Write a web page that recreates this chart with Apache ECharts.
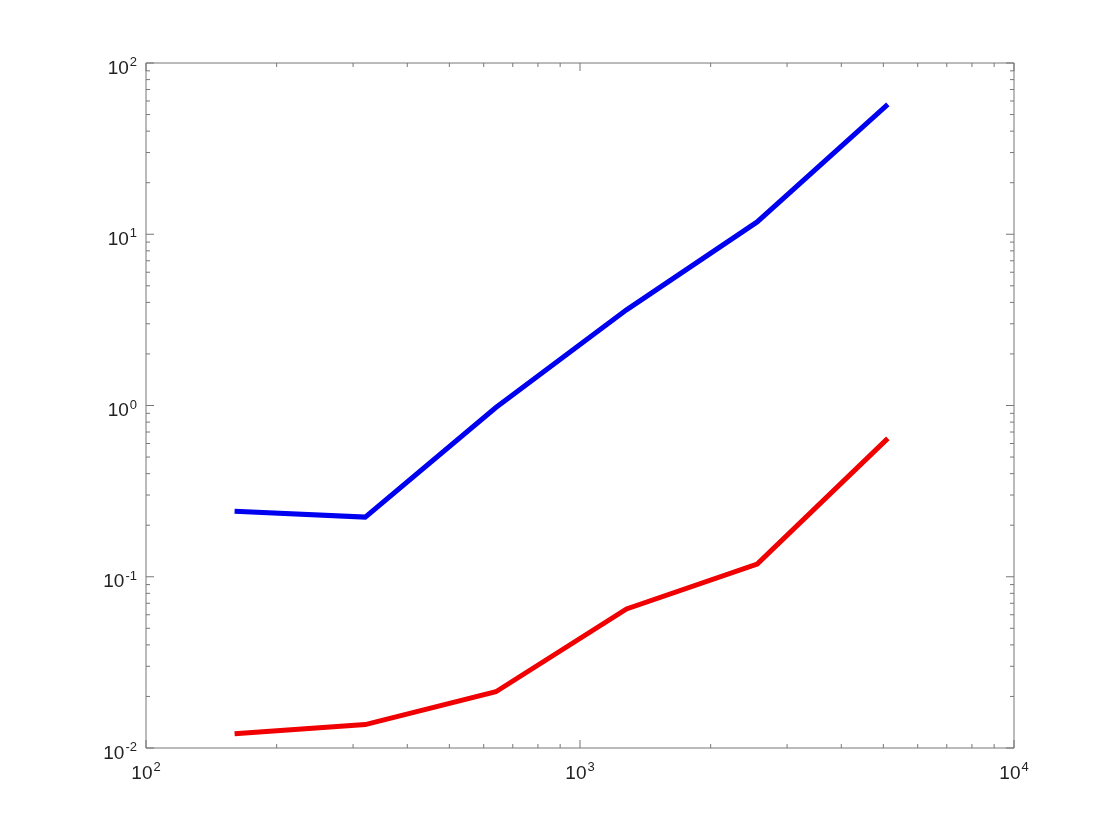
<!DOCTYPE html>
<html>
<head>
<meta charset="utf-8">
<script src="https://cdn.jsdelivr.net/npm/echarts@6/dist/echarts.min.js"></script>
<style>
  html, body { margin: 0; padding: 0; background: #fff; }
  #chart { width: 1120px; height: 840px; }
</style>
</head>
<body>
<div id="chart"></div>
<script>
// data
const sizes = [160, 320, 640, 1280, 2560, 5120];
const blueTimes = [0.241, 0.223, 0.973, 3.62, 11.8, 57.3];
const redTimes = [0.0121, 0.0137, 0.0213, 0.0649, 0.1187, 0.643];

// axis ticks
const xDecades = [100, 1000, 10000];
const yDecades = [0.01, 0.1, 1, 10, 100];
const minorSteps = [2, 3, 4, 5, 6, 7, 8, 9];

const X_MIN = 100, X_MAX = 10000, Y_MIN = 0.01, Y_MAX = 100;
const MAJOR_LEN = 8, MINOR_LEN = 4;
const axisColor = '#777777';

// tick lists: [value, tickLength]
function buildTicks(decades) {
  const out = [];
  decades.forEach(function (d, i) {
    out.push([d, MAJOR_LEN]);
    if (i < decades.length - 1) {
      minorSteps.forEach(function (m) { out.push([d * m, MINOR_LEN]); });
    }
  });
  return out;
}
const xTicks = buildTicks(xDecades).map(t => [t[0], 1, t[1]]);
const yTicks = buildTicks(yDecades).map(t => [1000, t[0], t[1]]);

const chart = echarts.init(document.getElementById('chart'));

function powLabel(value) {
  const e = Math.round(Math.log10(value));
  return '{b|10}{s|' + e + '}';
}
const font = 'Liberation Sans, Helvetica, Arial, sans-serif';
const labelRich = {
  b: { fontFamily: font, fontSize: 19, lineHeight: 22, color: '#222222', verticalAlign: 'bottom' },
  s: { fontFamily: font, fontSize: 13, lineHeight: 13, color: '#222222', verticalAlign: 'top', padding: [0, 0, 0, 1] }
};

const option = {
  animation: false,
  grid: {
    left: 146, right: 106, top: 63, bottom: 92,
    show: true, borderColor: axisColor, borderWidth: 1, backgroundColor: '#fff'
  },
  xAxis: {
    type: 'log', logBase: 10, min: X_MIN, max: X_MAX,
    axisLine: { show: false },
    axisTick: { show: false },
    splitLine: { show: false },
    axisLabel: { formatter: powLabel, rich: labelRich, fontSize: 19, fontFamily: font, margin: 13 }
  },
  yAxis: {
    type: 'log', logBase: 10, min: Y_MIN, max: Y_MAX,
    axisLine: { show: false },
    axisTick: { show: false },
    splitLine: { show: false },
    axisLabel: { formatter: powLabel, rich: labelRich, fontSize: 19, fontFamily: font, margin: 9, padding: [8, 0, 0, 0] }
  },
  series: [
    {
      type: 'custom',
      data: xTicks,
      silent: true,
      renderItem: function (params, api) {
        const v = api.value(0), len = api.value(2);
        const b = api.coord([v, Y_MIN]), t = api.coord([v, Y_MAX]);
        const st = { stroke: axisColor, lineWidth: 1 };
        return {
          type: 'group',
          children: [
            { type: 'line', shape: { x1: b[0], y1: b[1], x2: b[0], y2: b[1] - len }, style: st },
            { type: 'line', shape: { x1: t[0], y1: t[1], x2: t[0], y2: t[1] + len }, style: st }
          ]
        };
      }
    },
    {
      type: 'custom',
      data: yTicks,
      silent: true,
      renderItem: function (params, api) {
        const v = api.value(1), len = api.value(2);
        const l = api.coord([X_MIN, v]), r = api.coord([X_MAX, v]);
        const st = { stroke: axisColor, lineWidth: 1 };
        return {
          type: 'group',
          children: [
            { type: 'line', shape: { x1: l[0], y1: l[1], x2: l[0] + len, y2: l[1] }, style: st },
            { type: 'line', shape: { x1: r[0], y1: r[1], x2: r[0] - len, y2: r[1] }, style: st }
          ]
        };
      }
    },
    {
      type: 'line',
      data: sizes.map((x, i) => [x, blueTimes[i]]),
      showSymbol: false,
      lineStyle: { color: '#0000f0', width: 5, cap: 'butt', join: 'miter' },
      itemStyle: { color: '#0000f0' }
    },
    {
      type: 'line',
      data: sizes.map((x, i) => [x, redTimes[i]]),
      showSymbol: false,
      lineStyle: { color: '#f00000', width: 5, cap: 'butt', join: 'miter' },
      itemStyle: { color: '#f00000' }
    }
  ]
};
chart.setOption(option);
</script>
</body>
</html>
